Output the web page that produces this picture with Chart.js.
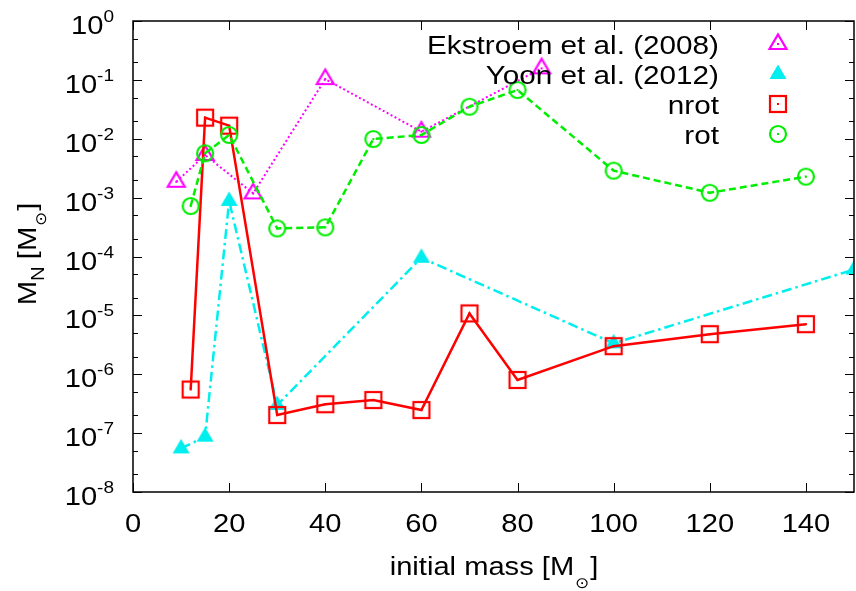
<!DOCTYPE html>
<html>
<head>
<meta charset="utf-8">
<script src="https://cdn.jsdelivr.net/npm/chart.js@4/dist/chart.umd.min.js"></script>
<style>
  body { margin: 0; background: #fff; }
  #chart { display: block; }
</style>
</head>
<body>
<canvas id="chart" width="856" height="591"></canvas>
<script>
// values (M_N in solar masses)
const massEkstroem = [9, 15, 25, 40, 60, 85];
const nEkstroem = [1.86e-3, 5.3e-3, 1.18e-3, 0.103, 0.0132, 0.157];

const massYoon = [10, 15, 20, 30, 60, 100, 150];
const nYoon = [5.5e-8, 8.7e-8, 8.8e-4, 3.0e-7, 9.5e-5, 3.35e-6, 6.0e-5];

const massModels = [12, 15, 20, 30, 40, 50, 60, 70, 80, 100, 120, 140];
const nNrot = [5.5e-7, 0.0228, 0.0167, 2.03e-7, 3.1e-7, 3.65e-7, 2.47e-7, 1.08e-5, 8.0e-7, 3.0e-6, 4.8e-6, 7.1e-6];
const nRot = [7.2e-4, 5.66e-3, 0.0116, 3.0e-4, 3.13e-4, 9.9e-3, 0.0116, 0.035, 0.0673, 2.87e-3, 1.21e-3, 2.27e-3];

const xTicks = [0, 20, 40, 60, 80, 100, 120, 140];
const yExponents = [0, -1, -2, -3, -4, -5, -6, -7, -8];
const seriesNames = ['Ekstroem et al. (2008)', 'Yoon et al. (2012)', 'nrot', 'rot'];

const FONT = 'Liberation Sans, Arial, sans-serif';
const STRETCH = 1.12; // the reference font runs a bit wider than Liberation
const ctx = document.getElementById('chart');

const makeSymbol = (kind, color) => {
    const c = document.createElement('canvas');
    c.width = 26; c.height = 26;
    const g = c.getContext('2d');
    const m = 13;
    g.strokeStyle = color;
    g.fillStyle = color;
    g.lineWidth = 2.2;
    if (kind === 'tri' || kind === 'filltri') {
        g.beginPath();
        g.moveTo(m, m - 9.5);
        g.lineTo(m + 8.5, m + 5);
        g.lineTo(m - 8.5, m + 5);
        g.closePath();
        if (kind === 'filltri') g.fill(); else g.stroke();
    } else if (kind === 'square') {
        g.strokeRect(m - 8, m - 8, 16, 16);
    } else {
        g.beginPath();
        g.arc(m, m, 8, 0, Math.PI * 2);
        g.stroke();
    }
    if (kind !== 'filltri') g.fillRect(m - 1, m - 1, 2, 2);
    return c;
};

const symbols = [
    makeSymbol('tri', '#ff00ff'),
    makeSymbol('filltri', '#00eeee'),
    makeSymbol('square', '#ff0000'),
    makeSymbol('circle', '#00ee00')
];

const toPoints = (xs, ys) => xs.map((x, i) => ({x: x, y: ys[i]}));

// text helpers with the horizontal stretch
const textW = (g, font, t) => {
    g.font = font;
    return g.measureText(t).width * STRETCH;
};
const put = (g, font, t, x, y, align) => {
    g.save();
    g.font = font;
    g.textAlign = align || 'left';
    g.translate(x, y);
    g.scale(STRETCH, 1);
    g.fillText(t, 0, 0);
    g.restore();
};

const axesPlugin = {
    id: 'gnuplotAxes',
    afterDatasetsDraw(chart) {
        const g = chart.ctx;
        const a = chart.chartArea;
        const xs = chart.scales.x;
        const ys = chart.scales.y;
        g.save();
        g.strokeStyle = '#000';
        g.fillStyle = '#000';
        g.lineWidth = 1.5;
        g.strokeRect(a.left, a.top, a.right - a.left, a.bottom - a.top);

        g.lineWidth = 1;
        g.beginPath();
        xTicks.forEach(v => {
            const px = Math.round(xs.getPixelForValue(v)) + 0.5;
            g.moveTo(px, a.bottom); g.lineTo(px, a.bottom - 9);
            g.moveTo(px, a.top); g.lineTo(px, a.top + 9);
        });
        yExponents.forEach(e => {
            const py = Math.round(ys.getPixelForValue(Math.pow(10, e))) + 0.5;
            g.moveTo(a.left, py); g.lineTo(a.left + 9, py);
            g.moveTo(a.right, py); g.lineTo(a.right - 9, py);
            if (e > -8) {
                [2, 5].forEach(k => {
                    const pm = Math.round(ys.getPixelForValue(k * Math.pow(10, e - 1))) + 0.5;
                    g.moveTo(a.left, pm); g.lineTo(a.left + 5, pm);
                    g.moveTo(a.right, pm); g.lineTo(a.right - 5, pm);
                });
            }
        });
        g.stroke();

        const big = '26px ' + FONT;
        const sup = '17px ' + FONT;
        const sun = '15px DejaVu Sans';

        // x tick labels
        xTicks.forEach(v => {
            put(g, big, String(v), xs.getPixelForValue(v), 532, 'center');
        });

        // y tick labels 10^n
        yExponents.forEach(e => {
            const py = ys.getPixelForValue(Math.pow(10, e));
            const sw = textW(g, sup, String(e));
            const bw = textW(g, big, '10');
            const right = 114;
            put(g, big, '10', right - sw - bw, py + 13);
            put(g, sup, String(e), right - sw, py + 1);
        });

        // x title: initial mass [M_sun]
        const t1 = 'initial mass [M';
        let w = textW(g, big, t1) + textW(g, sun, '\u2299') + textW(g, big, ']') + 2;
        let x0 = 494 - w / 2;
        put(g, big, t1, x0, 575);
        x0 += textW(g, big, t1) + 1;
        put(g, sun, '\u2299', x0, 588);
        x0 += textW(g, sun, '\u2299') + 1;
        put(g, big, ']', x0, 575);

        // y title, rotated: M_N [M_sun]
        g.save();
        g.translate(36, 254);
        g.rotate(-Math.PI / 2);
        const yw = textW(g, big, 'M') + textW(g, sup, 'N') + textW(g, big, ' [M') +
            textW(g, sun, '\u2299') + textW(g, big, ']') + 2;
        let y0 = -yw / 2;
        put(g, big, 'M', y0, 0);
        y0 += textW(g, big, 'M');
        put(g, '18px ' + FONT, 'N', y0, 8);
        y0 += textW(g, sup, 'N');
        put(g, big, ' [M', y0, 0);
        y0 += textW(g, big, ' [M') + 1;
        put(g, sun, '\u2299', y0, 10);
        y0 += textW(g, sun, '\u2299') + 1;
        put(g, big, ']', y0, 0);
        g.restore();

        // key, top right, text right aligned then symbol
        seriesNames.forEach((name, i) => {
            const base = 54 + i * 30;
            put(g, '26.5px ' + FONT, name, 719, base, 'right');
            g.drawImage(symbols[i], 778 - 13, base - 10 - 13);
        });
        g.restore();
    }
};

const myChart = new Chart(ctx, {
    type: 'scatter',
    data: {
        datasets: [{
            label: seriesNames[0],
            data: toPoints(massEkstroem, nEkstroem),
            showLine: true,
            borderColor: '#ff00ff',
            borderWidth: 2,
            borderDash: [2, 2.5],
            pointStyle: symbols[0],
            pointRadius: 6,
            order: 4
        }, {
            label: seriesNames[1],
            data: toPoints(massYoon, nYoon),
            showLine: true,
            borderColor: '#00eeee',
            borderWidth: 2.5,
            borderDash: [10, 4, 2.5, 4],
            pointStyle: symbols[1],
            pointRadius: 6,
            order: 3
        }, {
            label: seriesNames[2],
            data: toPoints(massModels, nNrot),
            showLine: true,
            borderColor: '#ff0000',
            borderWidth: 2.5,
            pointStyle: symbols[2],
            pointRadius: 6,
            order: 2
        }, {
            label: seriesNames[3],
            data: toPoints(massModels, nRot),
            showLine: true,
            borderColor: '#00ee00',
            borderWidth: 2.5,
            borderDash: [7, 4],
            pointStyle: symbols[3],
            pointRadius: 6,
            order: 1
        }]
    },
    options: {
        responsive: false,
        animation: false,
        devicePixelRatio: 1,
        events: [],
        layout: {
            autoPadding: false,
            padding: {left: 133, top: 21, right: 2, bottom: 99}
        },
        elements: {
            line: {tension: 0}
        },
        scales: {
            x: {type: 'linear', min: 0, max: 150, display: false},
            y: {type: 'logarithmic', min: 1e-8, max: 1, display: false}
        },
        plugins: {
            legend: {display: false},
            tooltip: {enabled: false}
        }
    },
    plugins: [axesPlugin]
});
</script>
</body>
</html>
